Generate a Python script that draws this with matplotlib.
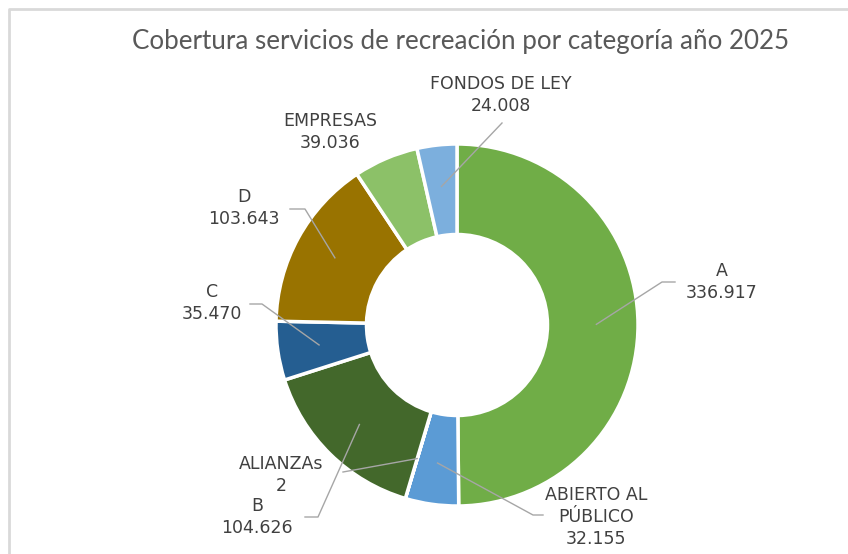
import numpy as np
import matplotlib.pyplot as plt

# Datos
categorias = ["A", "ABIERTO AL\nPÚBLICO", "ALIANZAs", "B", "C", "D", "EMPRESAS", "FONDOS DE LEY"]
valores = [336917, 32155, 2, 104626, 35470, 103643, 39036, 24008]
colores = ["#70AD47", "#5B9BD5", "#43682B", "#43682B", "#255E91", "#997300", "#8CC168", "#7CAFDD"]

W, H = 848, 554
def py(y):
    # pixel y (from top) -> axis y (from bottom)
    return H - y

fig = plt.figure(figsize=(W / 100, H / 100), dpi=100)
ax = fig.add_axes([0, 0, 1, 1])

cx, cy, r = 457, 325, 181
wedges, _ = ax.pie(valores, colors=colores, startangle=90, counterclock=False,
                   center=(cx, py(cy)), radius=r,
                   wedgeprops=dict(width=r * 0.5, edgecolor="white", linewidth=2.5))

ax.set_xlim(0, W)
ax.set_ylim(0, H)
ax.set_aspect("equal")
ax.axis("off")

def fmt(v):
    return f"{v:,}".replace(",", ".")

# label position (text centre) and leader elbow points, pixel coords
etiquetas = {
    "A": ((722, 282), [(662, 282), (675, 282)]),
    "ABIERTO AL\nPÚBLICO": ((596, 517), [(533, 515), (543, 515)]),
    "ALIANZAs": ((281, 475), [(343, 472)]),
    "B": ((257, 517), [(318, 517), (305, 517)]),
    "C": ((212, 303), [(262, 304), (250, 304)]),
    "D": ((244, 208), [(305, 209), (290, 209)]),
    "EMPRESAS": ((330, 132), []),
    "FONDOS DE LEY": ((501, 95), [(502, 123)]),
}

total = sum(valores)
acum = 0
for cat, v in zip(categorias, valores):
    mid = 90 - (acum + v / 2) / total * 360
    acum += v
    (tx, ty), codo = etiquetas[cat]
    ax.text(tx, py(ty), f"{cat}\n{fmt(v)}", ha="center", va="center",
            fontsize=12.5, color="#404040", linespacing=1.3)
    if codo:
        ax0 = cx + 0.77 * r * np.cos(np.radians(mid))
        ay0 = py(cy) + 0.77 * r * np.sin(np.radians(mid))
        xs = [ax0] + [p[0] for p in codo]
        ys = [ay0] + [py(p[1]) for p in codo]
        ax.plot(xs, ys, color="#A6A6A6", lw=1)

ax.text(461, py(41), "Cobertura servicios de recreación por categoría año 2025",
        ha="center", va="center", fontsize=18.7, color="#595959", family="Lato")

# marco
ax.plot([8.5, 8.5, W], [0, py(8.5), py(8.5)], color="#D9D9D9", lw=2, clip_on=False)

fig.savefig("out.png", dpi=100)
